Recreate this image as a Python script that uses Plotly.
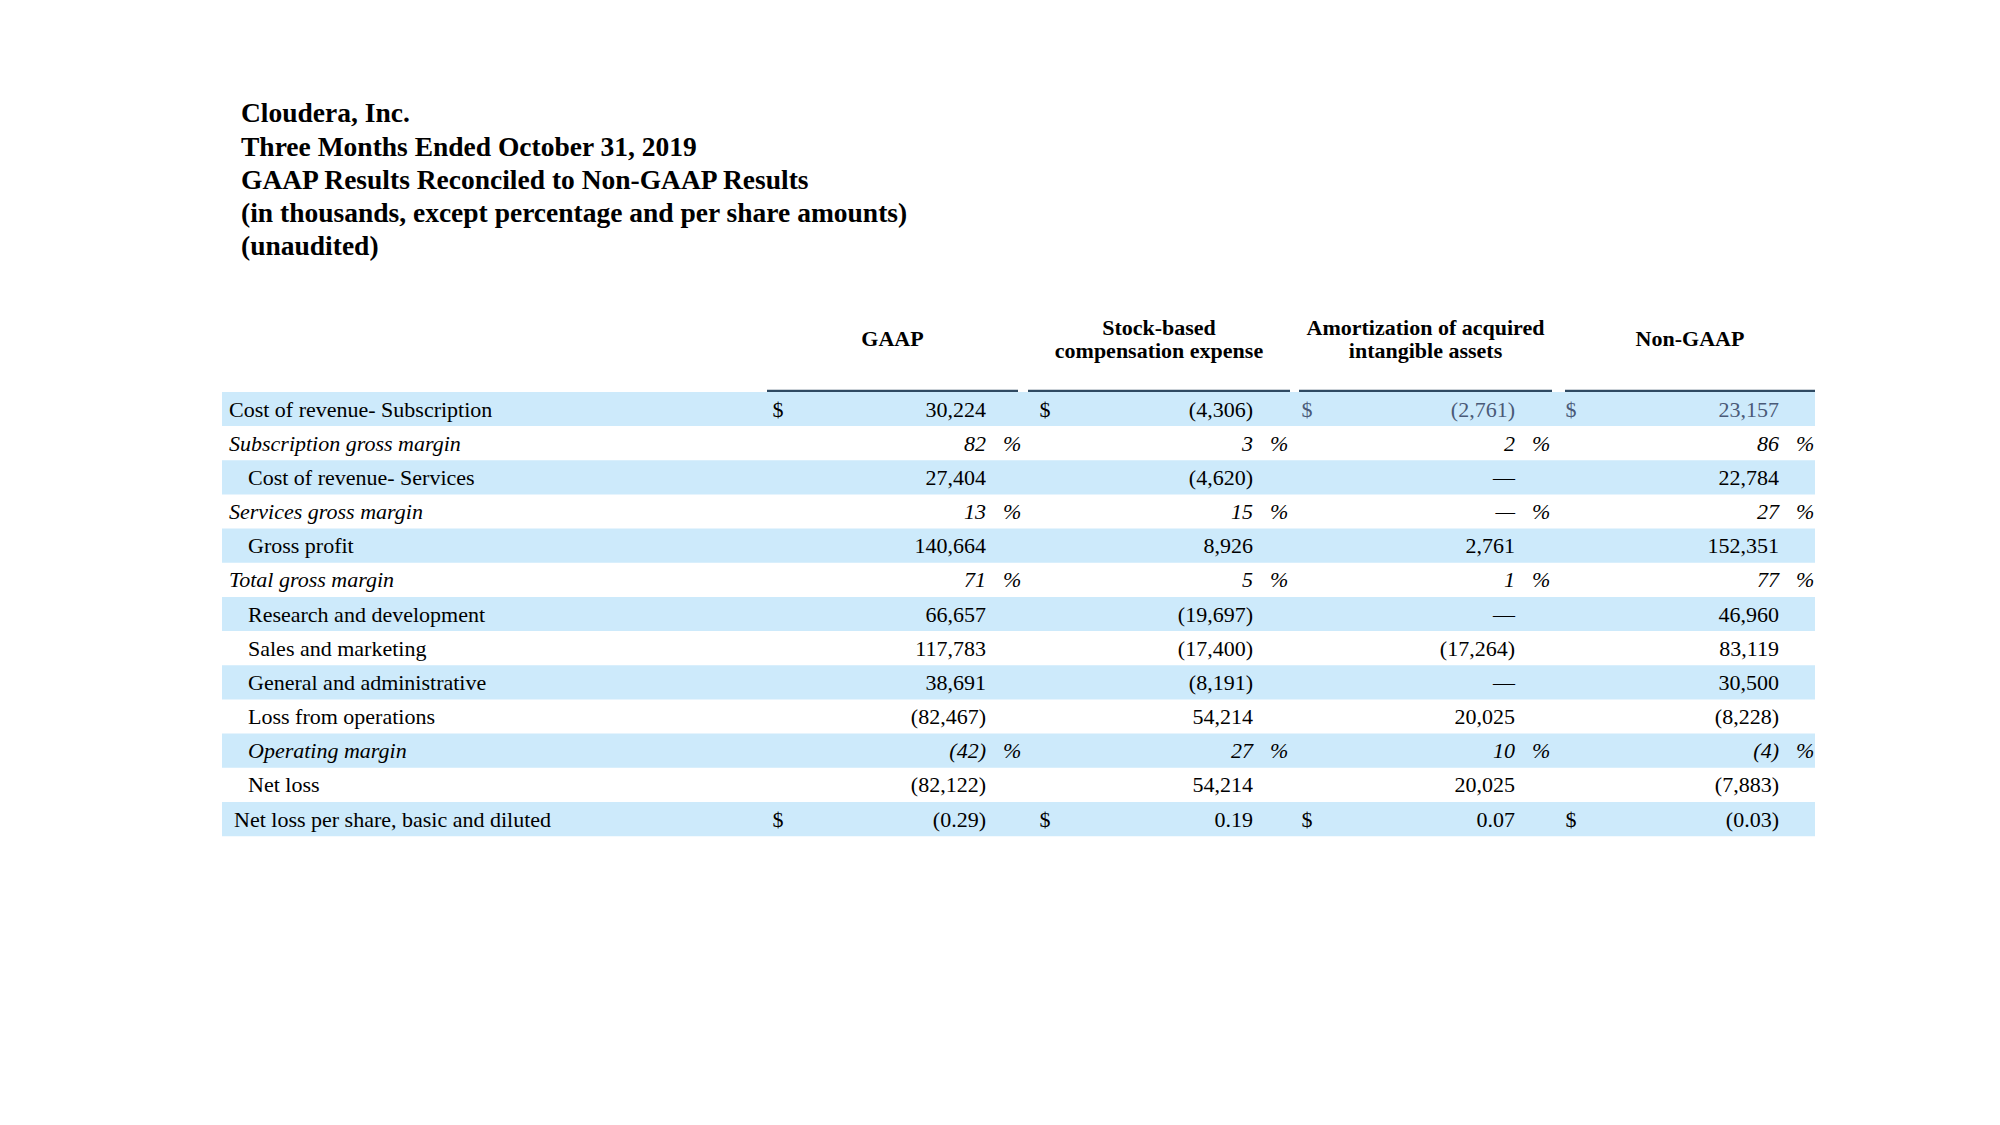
import plotly.graph_objects as go

# ---------------- data ----------------
title_lines = [
    "Cloudera, Inc.",
    "Three Months Ended October 31, 2019",
    "GAAP Results Reconciled to Non-GAAP Results",
    "(in thousands, except percentage and per share amounts)",
    "(unaudited)",
]
column_headers = [
    ["GAAP"],
    ["Stock-based", "compensation expense"],
    ["Amortization of acquired", "intangible assets"],
    ["Non-GAAP"],
]
row_labels = [
    "Cost of revenue- Subscription",
    "Subscription gross margin",
    "Cost of revenue- Services",
    "Services gross margin",
    "Gross profit",
    "Total gross margin",
    "Research and development",
    "Sales and marketing",
    "General and administrative",
    "Loss from operations",
    "Operating margin",
    "Net loss",
    "Net loss per share, basic and diluted",
]
# row kind: "dollar" rows carry a $ sign, "pct" rows are percentages
row_kind = ["dollar", "pct", "num", "pct", "num", "pct", "num",
            "num", "num", "num", "pct", "num", "dollar"]
gaap = ["30,224", "82", "27,404", "13", "140,664", "71", "66,657",
        "117,783", "38,691", "(82,467)", "(42)", "(82,122)", "(0.29)"]
stock_comp = ["(4,306)", "3", "(4,620)", "15", "8,926", "5", "(19,697)",
              "(17,400)", "(8,191)", "54,214", "27", "54,214", "0.19"]
amortization = ["(2,761)", "2", "—", "—", "2,761", "1", "—",
                "(17,264)", "—", "20,025", "10", "20,025", "0.07"]
non_gaap = ["23,157", "86", "22,784", "27", "152,351", "77", "46,960",
            "83,119", "30,500", "(8,228)", "(4)", "(7,883)", "(0.03)"]
columns = [gaap, stock_comp, amortization, non_gaap]

# ---------------- style / layout ----------------
FONT = "Liberation Serif, Times New Roman, serif"
BODY = 22
TITLE = 27.5
BAND = "#cdeafb"
RULE = "#2f4a62"
SLATE = "#4a5a78"
BLACK = "#000000"

# label indent levels (0 = flush, 1 = indented, 2 = slight)
label_indent = [0, 0, 1, 0, 1, 0, 1, 1, 1, 1, 1, 1, 2]
indent_x = {0: 229, 1: 248, 2: 234}
col_span = [(767, 1018), (1028, 1290), (1299, 1552), (1565, 1815)]
col_right = [986, 1253, 1515, 1779]
dollar_off = 208
pct_off = 17
band_x = (222, 1815)

PAGE_OFF = 8  # default body margin of the html page
W, H = 2000, 1125
ROW0_PX, PITCH = 409 - PAGE_OFF, 34.17
y_top = -ROW0_PX / PITCH
y_bot = y_top + H / PITCH
TEXT_DY = 2.0 / PITCH  # small downward nudge of text within rows


def px_to_row(p):
    return (p - PAGE_OFF - ROW0_PX) / PITCH


fig = go.Figure()
n = len(row_labels)
row_y = [i + TEXT_DY for i in range(n)]

# bands
shapes = []
for i in range(0, n, 2):
    shapes.append(dict(type="rect", xref="x", yref="y", x0=band_x[0], x1=band_x[1],
                       y0=i - 0.5, y1=i + 0.5, fillcolor=BAND, line_width=0,
                       layer="below"))
# header rules
for (a, b) in col_span:
    shapes.append(dict(type="line", xref="x", yref="y", x0=a, x1=b,
                       y0=-0.53, y1=-0.53, line=dict(color=RULE, width=2.2)))


def fmt(t, italic):
    return f"<i>{t}</i>" if italic else t


def text_trace(xs, ys, texts, pos, size=BODY, colors=BLACK):
    fig.add_trace(go.Scatter(
        x=xs, y=ys, text=texts, mode="text", textposition=pos,
        textfont=dict(family=FONT, size=size, color=colors),
        hoverinfo="skip", showlegend=False, cliponaxis=False))


# title
text_trace([241] * len(title_lines),
           [px_to_row(p) for p in (115, 149, 182, 215.5, 248.5)],
           [f"<b>{t}</b>" for t in title_lines], "middle right", size=TITLE)

# column headers
hx, hy, ht = [], [], []
for c, lines in enumerate(column_headers):
    cx = (col_span[c][0] + col_span[c][1]) / 2
    if len(lines) == 1:
        ys = [px_to_row(340)]
    else:
        ys = [px_to_row(329), px_to_row(352)]
    for yv, t in zip(ys, lines):
        hx.append(cx); hy.append(yv); ht.append(f"<b>{t}</b>")
text_trace(hx, hy, ht, "middle center")

# row labels
text_trace([indent_x[label_indent[i]] for i in range(n)], row_y,
           [fmt(row_labels[i], row_kind[i] == "pct") for i in range(n)],
           "middle right")

# values, $ and %
for c, vals in enumerate(columns):
    colors = [SLATE if (i == 0 and c >= 2) else BLACK for i in range(n)]
    text_trace([col_right[c]] * n, row_y,
               [fmt(vals[i], row_kind[i] == "pct") for i in range(n)],
               "middle left", colors=colors)
    d_rows = [i for i in range(n) if row_kind[i] == "dollar"]
    text_trace([col_right[c] - dollar_off] * len(d_rows), [row_y[i] for i in d_rows],
               ["$"] * len(d_rows), "middle center",
               colors=[colors[i] for i in d_rows])
    p_rows = [i for i in range(n) if row_kind[i] == "pct"]
    text_trace([col_right[c] + pct_off] * len(p_rows), [row_y[i] for i in p_rows],
               ["<i>%</i>"] * len(p_rows), "middle right")

fig.update_layout(
    width=W, height=H, margin=dict(l=0, r=0, t=0, b=0),
    paper_bgcolor="white", plot_bgcolor="white",
    xaxis=dict(range=[PAGE_OFF, W + PAGE_OFF], visible=False, fixedrange=True),
    yaxis=dict(range=[y_bot, y_top], visible=False, fixedrange=True),
    shapes=shapes, showlegend=False,
)
fig.write_html("out.html")
